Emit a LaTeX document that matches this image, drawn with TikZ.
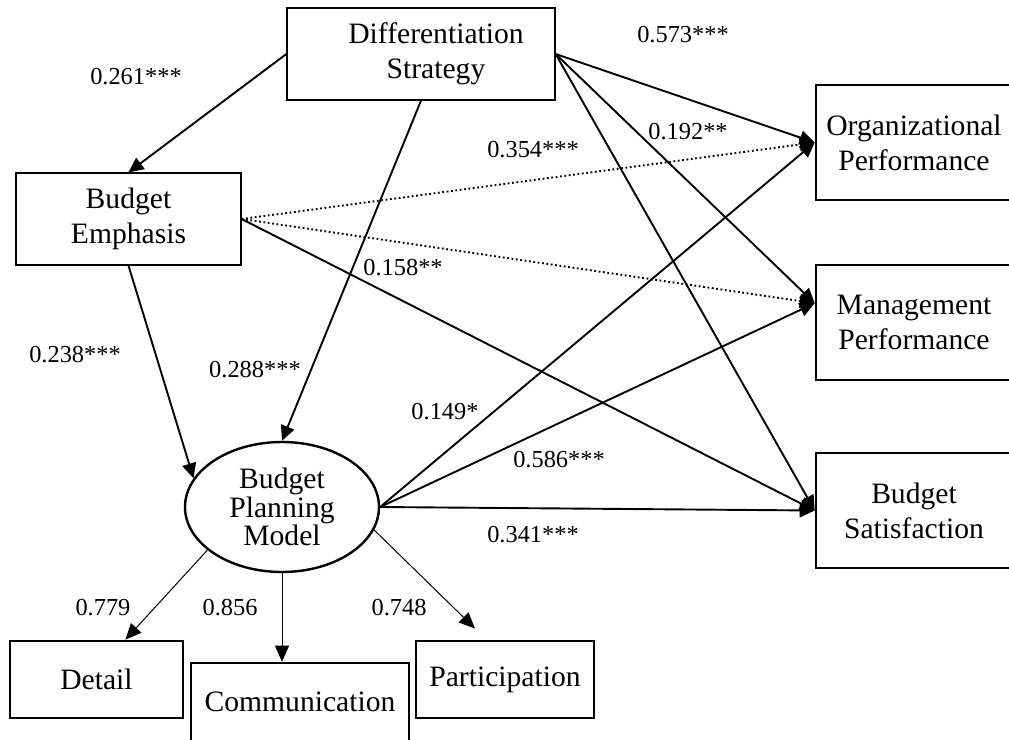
\documentclass[tikz,border=0pt]{standalone}
\usepackage{fontspec}
\setmainfont{Liberation Serif}
\usetikzlibrary{arrows.meta,shapes.geometric}

\begin{document}
\begin{tikzpicture}[
  x=0.5pt, y=-0.5pt,
  every node/.style={align=center, inner sep=0pt},
  box/.style={draw=black, line width=0.65pt, font=\fontsize{14.8}{17.5}\selectfont},
  thickbox/.style={box, line width=1.3pt},
  est/.style={font=\fontsize{12.2}{14}\selectfont},
  arr/.style={-{Triangle[length=7.5pt, width=7pt]}, line width=0.95pt},
  thinarr/.style={-{Triangle[length=8pt, width=7pt]}, line width=0.5pt},
  dotarr/.style={arr, dash pattern=on 0.9pt off 1.3pt}
]
\useasboundingbox (0,0) rectangle (1009,740);

% constructs
\node[box, minimum width=134pt, minimum height=46pt] (diff) at (421,54)
  {\hspace*{15pt}\begin{tabular}{@{}c@{}}Differentiation\\Strategy\end{tabular}};
\node[box, minimum width=112.5pt, minimum height=46pt] (be) at (128.5,219) {Budget\\Emphasis};
\node[ellipse, draw=black, line width=1.2pt, minimum width=97pt, minimum height=65pt,
  font=\fontsize{14.8}{14.3}\selectfont] (bpm) at (282,507) {Budget\\Planning\\Model};
\node[thickbox, minimum width=98pt, minimum height=57.5pt] (org) at (914,142.5) {Organizational\\Performance};
\node[thickbox, minimum width=98pt, minimum height=57.5pt] (mgmt) at (914,322.5) {Management\\Performance};
\node[thickbox, minimum width=98pt, minimum height=57.5pt] (sat) at (914,510.5) {Budget\\Satisfaction};
\node[thickbox, minimum width=86.5pt, minimum height=38.5pt] (detail) at (96.5,679.5) {Detail};
\node[thickbox, minimum width=109pt, minimum height=39pt] (comm) at (300,702) {Communication};
\node[thickbox, minimum width=89pt, minimum height=38.5pt] (part) at (505,679.5) {Participation};

% paths
\draw[arr] (diff.west) -- (be.north);
\draw[arr] (diff.south) -- (bpm.north);
\draw[arr] (be.south) -- (bpm.162);
\draw[arr] (diff.east) -- (org.west);
\draw[arr] (diff.east) -- (mgmt.169);
\draw[arr] (diff.east) -- (sat.west);
\draw[dotarr] (be.east) -- (org.west);
\draw[dotarr] (be.east) -- (mgmt.169);
\draw[arr] (be.east) -- (sat.west);
\draw[arr] (bpm.east) -- (org.west);
\draw[arr] (bpm.east) -- (mgmt.169);
\draw[arr] (bpm.east) -- (sat.west);
\draw[thinarr] (bpm.210) -- (detail.54);
\draw[thinarr] (bpm.south) -- (bpm.south |- comm.north);
\draw[thinarr, shorten >=8pt] (bpm.346) -- (part.115);

% coefficients
\node[est] (c261) at (136,77) {0.261***};
\node[est] (c573) at (683,35) {0.573***};
\node[est] (c192) at (688,132) {0.192**};
\node[est] (c354) at (533,150) {0.354***};
\node[est] (c158) at (403,268) {0.158**};
\node[est] (c238) at (75,355) {0.238***};
\node[est] (c288) at (255,370) {0.288***};
\node[est] (c149) at (445,412) {0.149*};
\node[est] (c586) at (559,460) {0.586***};
\node[est] (c341) at (533,535) {0.341***};
\node[est] (c779) at (103,608) {0.779};
\node[est] (c856) at (230,608) {0.856};
\node[est] (c748) at (399,608) {0.748};
\end{tikzpicture}
\end{document}
